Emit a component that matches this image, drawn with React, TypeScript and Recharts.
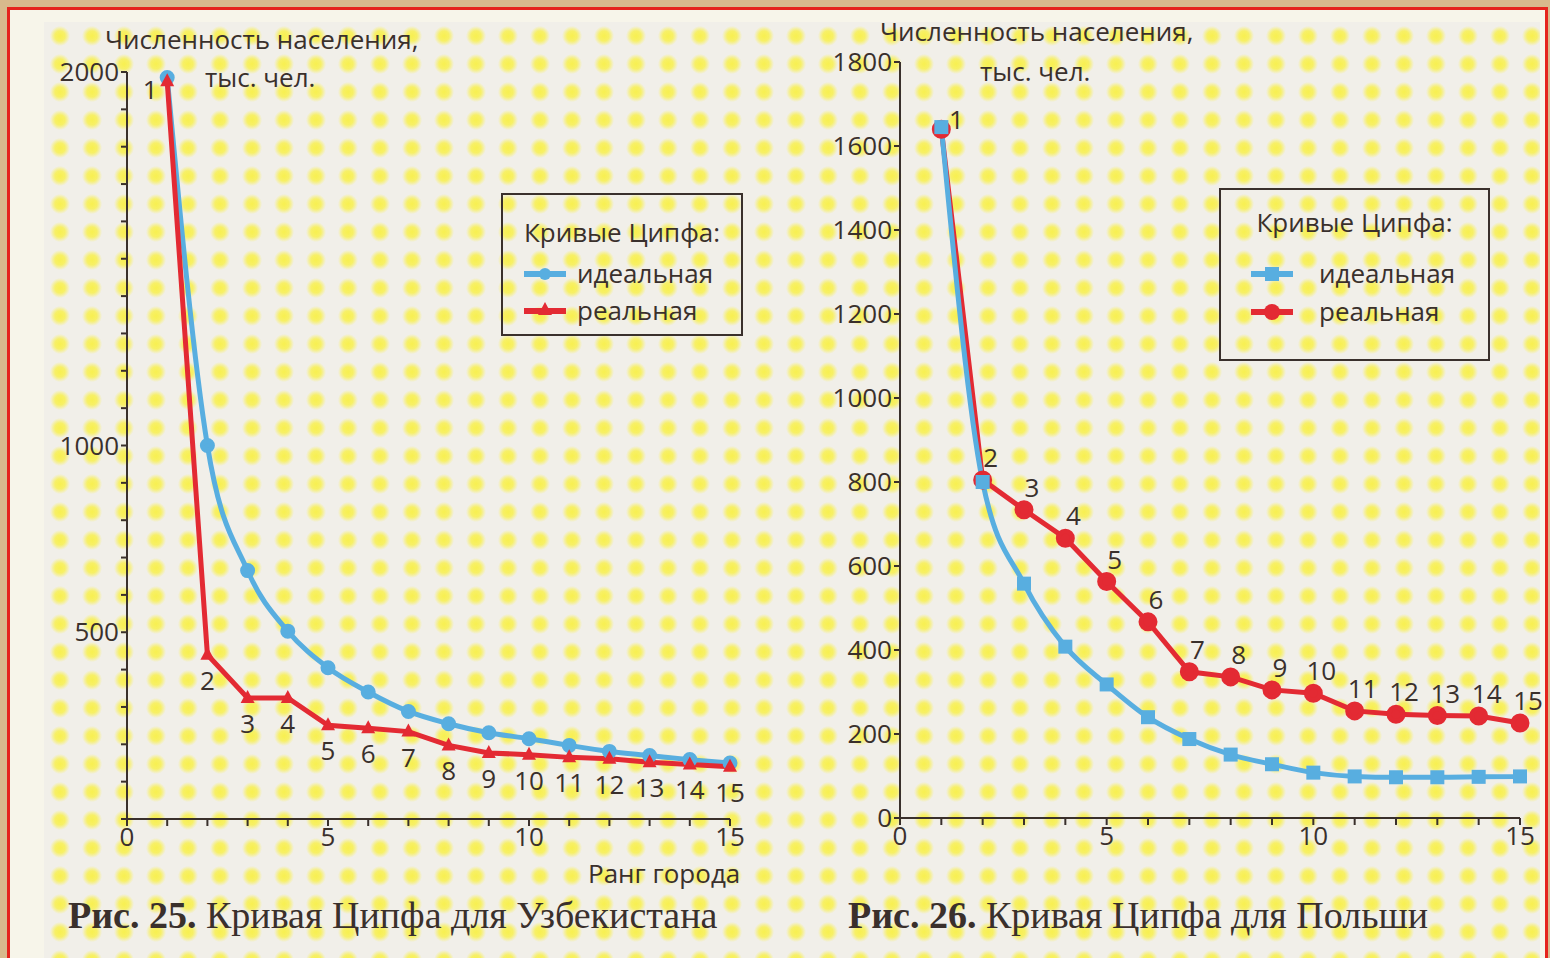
import React from 'react';
import { LineChart, Line, XAxis, YAxis, LabelList } from 'recharts';

// Ранг города 1..15
const ranks = [1, 2, 3, 4, 5, 6, 7, 8, 9, 10, 11, 12, 13, 14, 15];

// Рис. 25 — Узбекистан, тыс. чел.
const uzIdeal = [1985, 1000, 665, 503, 405, 340, 288, 255, 231, 215, 197, 181, 170, 159, 150];
const uzReal = [1975, 440, 324, 324, 251, 243, 234, 197, 177, 172, 165, 161, 152, 146, 140];

// Рис. 26 — Польша, тыс. чел.
const plIdeal = [1645, 800, 558, 408, 318, 240, 188, 151, 128, 108, 99, 97, 97, 98, 99];
const plReal = [1640, 805, 734, 666, 563, 467, 348, 336, 305, 297, 255, 247, 244, 243, 226];

const xTicks = [0, 1, 2, 3, 4, 5, 6, 7, 8, 9, 10, 11, 12, 13, 14, 15];
const uzYTicks = [0, 100, 200, 300, 400, 500, 600, 700, 800, 900, 1000, 1100, 1200, 1300, 1400, 1500, 1600, 1700, 1800, 1900, 2000];
const uzYLabels = [500, 1000, 2000];
const plYTicks = [0, 200, 400, 600, 800, 1000, 1200, 1400, 1600, 1800];

const BLUE = '#58aee0';
const RED = '#e32a33';
const INK = '#3a302c';
const FONT = '"Open Sans", "Noto Sans", sans-serif';
const FS = 26;

const uzData = ranks.map((rank, i) => ({ rank, ideal: uzIdeal[i], real: uzReal[i] }));
const plData = ranks.map((rank, i) => ({ rank, ideal: plIdeal[i], real: plReal[i] }));

const tickStyle = { fill: INK, fontSize: FS, fontFamily: FONT };
const axisLine = { stroke: INK, strokeWidth: 2 };

const xFormat = (v: number) => (v % 5 === 0 ? String(v) : '');

function Triangle(props: any) {
  const { cx, cy } = props;
  if (cx == null || cy == null) return null;
  return <polygon points={`${cx},${cy - 8} ${cx - 7},${cy + 5} ${cx + 7},${cy + 5}`} fill={RED} />;
}

function Square(props: any) {
  const { cx, cy } = props;
  if (cx == null || cy == null) return null;
  return <rect x={cx - 7} y={cy - 7} width={14} height={14} fill={BLUE} />;
}

function UzRank(props: any) {
  const { x, y, value } = props;
  const first = value === 1;
  return (
    <text
      x={first ? x - 17 : x}
      y={first ? y + 8 : y + 25}
      textAnchor="middle"
      dominantBaseline="central"
      fill={INK}
      fontSize={FS}
      fontFamily={FONT}
    >
      {value}
    </text>
  );
}

function PlRank(props: any) {
  const { x, y, value } = props;
  const first = value === 1;
  return (
    <text
      x={first ? x + 15 : x + 8}
      y={first ? y - 10 : y - 23}
      textAnchor="middle"
      dominantBaseline="central"
      fill={INK}
      fontSize={FS}
      fontFamily={FONT}
    >
      {value}
    </text>
  );
}

function LegendBox({ left, top, width, height, titleTop, rowTops, markerLeft, textLeft, square }: any) {
  return (
    <div
      style={{
        position: 'absolute',
        left,
        top,
        width,
        height,
        border: `2px solid ${INK}`,
        boxSizing: 'border-box',
        fontFamily: FONT,
        fontSize: FS,
        color: INK,
      }}
    >
      <div style={{ position: 'absolute', top: titleTop, left: 0, width: '100%', textAlign: 'center', lineHeight: '34px' }}>
        Кривые Ципфа:
      </div>
      {['идеальная', 'реальная'].map((name, i) => (
        <div key={name} style={{ position: 'absolute', top: rowTops[i], left: 0, width: '100%', height: 30 }}>
          <svg width={50} height={30} style={{ position: 'absolute', left: markerLeft, top: 0 }}>
            <line x1={2} y1={15} x2={44} y2={15} stroke={i === 0 ? BLUE : RED} strokeWidth={6} />
            {i === 0 && !square && <circle cx={23} cy={15} r={6} fill={BLUE} />}
            {i === 0 && square && <rect x={16} y={8} width={14} height={14} fill={BLUE} />}
            {i === 1 && !square && <polygon points="23,6 16,19 30,19" fill={RED} />}
            {i === 1 && square && <circle cx={23} cy={15} r={8} fill={RED} />}
          </svg>
          <span style={{ position: 'absolute', left: textLeft, top: -3, lineHeight: '34px' }}>{name}</span>
        </div>
      ))}
    </div>
  );
}

const abs = (left: number, top: number): React.CSSProperties => ({
  position: 'absolute',
  left,
  top,
  fontFamily: FONT,
  fontSize: FS,
  color: INK,
  whiteSpace: 'nowrap',
  lineHeight: '26px',
});

const caption: React.CSSProperties = {
  position: 'absolute',
  top: 893,
  fontFamily: '"Liberation Serif", "DejaVu Serif", serif',
  fontSize: 38,
  color: INK,
  whiteSpace: 'nowrap',
  lineHeight: '44px',
};

export default function App() {
  return (
    <div
      style={{
        position: 'absolute',
        left: 0,
        top: 0,
        width: 1550,
        height: 958,
        background: '#d8b98c',
        overflow: 'hidden',
      }}
    >
      <div
        style={{
          position: 'absolute',
          left: 7,
          top: 7,
          width: 1541,
          height: 960,
          border: '3px solid #e5231c',
          boxSizing: 'border-box',
          background: '#f7f5ea',
        }}
      />
      <div
        style={{
          position: 'absolute',
          left: 44,
          top: 22,
          width: 1496,
          height: 936,
          backgroundColor: '#f1efe9',
          backgroundImage:
            'radial-gradient(circle, rgba(248,240,80,1) 0px, rgba(248,240,80,0.85) 5px, rgba(248,240,80,0) 10px)',
          backgroundSize: '32px 28px',
          backgroundPosition: '0px 0px',
        }}
      />

      {/* Рис. 25 */}
      <div style={{ position: 'absolute', left: 0, top: 0 }}>
        <LineChart width={800} height={900} data={uzData} margin={{ top: 72, right: 70, bottom: 51, left: 67 }}>
          <XAxis
            dataKey="rank"
            type="number"
            domain={[0, 15]}
            ticks={xTicks}
            interval={0}
            tickFormatter={xFormat}
            tick={tickStyle}
            tickSize={7}
            tickLine={axisLine}
            axisLine={axisLine}
            height={30}
          />
          <YAxis
            type="number"
            domain={[0, 2000]}
            ticks={uzYTicks}
            interval={0}
            tickFormatter={(v: number) => (uzYLabels.includes(v) ? String(v) : '')}
            tick={tickStyle}
            tickSize={6}
            tickLine={axisLine}
            axisLine={axisLine}
            width={60}
          />
          <Line
            type="monotone"
            dataKey="ideal"
            stroke={BLUE}
            strokeWidth={5}
            dot={{ r: 5, fill: BLUE, stroke: BLUE }}
            isAnimationActive={false}
          />
          <Line
            type="linear"
            dataKey="real"
            stroke={RED}
            strokeWidth={5}
            dot={<Triangle />}
            isAnimationActive={false}
          >
            <LabelList dataKey="rank" content={<UzRank />} />
          </Line>
        </LineChart>
      </div>

      {/* Рис. 26 */}
      <div style={{ position: 'absolute', left: 800, top: 0 }}>
        <LineChart width={750} height={900} data={plData} margin={{ top: 62, right: 30, bottom: 52, left: 40 }}>
          <XAxis
            dataKey="rank"
            type="number"
            domain={[0, 15]}
            ticks={xTicks}
            interval={0}
            tickFormatter={xFormat}
            tick={tickStyle}
            tickSize={7}
            tickLine={axisLine}
            axisLine={axisLine}
            height={30}
          />
          <YAxis
            type="number"
            domain={[0, 1800]}
            ticks={plYTicks}
            interval={0}
            tick={tickStyle}
            tickSize={6}
            tickLine={axisLine}
            axisLine={axisLine}
            width={60}
          />
          <Line
            type="linear"
            dataKey="real"
            stroke={RED}
            strokeWidth={5}
            dot={{ r: 7, fill: RED, stroke: RED }}
            isAnimationActive={false}
          >
            <LabelList dataKey="rank" content={<PlRank />} />
          </Line>
          <Line
            type="monotone"
            dataKey="ideal"
            stroke={BLUE}
            strokeWidth={5}
            dot={<Square />}
            isAnimationActive={false}
          />
        </LineChart>
      </div>

      <LegendBox
        left={501}
        top={193}
        width={242}
        height={143}
        titleTop={20}
        rowTops={[64, 101]}
        markerLeft={19}
        textLeft={74}
        square={false}
      />
      <LegendBox
        left={1219}
        top={188}
        width={271}
        height={173}
        titleTop={15}
        rowTops={[69, 107]}
        markerLeft={28}
        textLeft={98}
        square={true}
      />

      {/* подписи осей */}
      <div style={abs(105, 26)}>Численность населения,</div>
      <div style={abs(205, 64)}>тыс. чел.</div>
      <div style={abs(880, 18)}>Численность населения,</div>
      <div style={abs(980, 58)}>тыс. чел.</div>
      <div style={abs(588, 860)}>Ранг города</div>

      <div style={{ ...caption, left: 68 }}>
        <b>Рис. 25.</b> Кривая Ципфа для Узбекистана
      </div>
      <div style={{ ...caption, left: 848 }}>
        <b>Рис. 26.</b> Кривая Ципфа для Польши
      </div>
    </div>
  );
}
